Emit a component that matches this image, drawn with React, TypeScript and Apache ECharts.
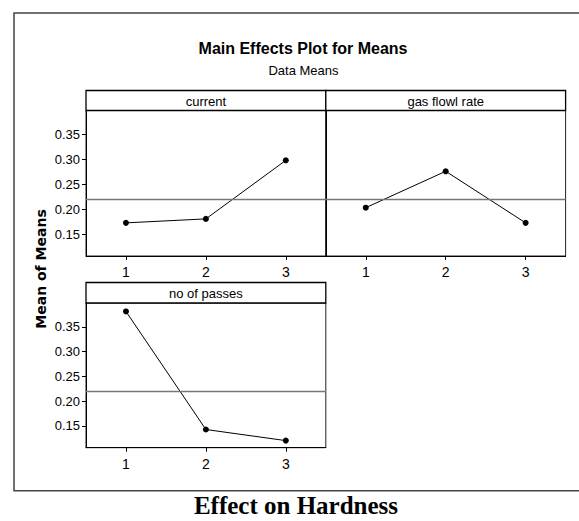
import React, { useEffect, useRef } from "react";
import * as echarts from "echarts";

const categories = ["1", "2", "3"];
const currentMeans = [0.1725, 0.1805, 0.298];
const gasFlowMeans = [0.203, 0.276, 0.1725];
const passesMeans = [0.381, 0.1427, 0.1203];
const grandMean = 0.216;
const yTicks = [0.15, 0.2, 0.25, 0.3, 0.35];
const panelTitles = ["current", "gas flowl rate", "no of passes"];
const yMin = 0.106;
const yMax = 0.398;

const seriesData = [currentMeans, gasFlowMeans, passesMeans];

const PW = 239.8;
const panels = [
  { x: 86, y: 110.5, h: 145.5, hy: 90.5, hh: 20, showY: true },
  { x: 325.8, y: 110.5, h: 145.5, hy: 90.5, hh: 20, showY: false },
  { x: 86, y: 303, h: 144.7, hy: 282.5, hh: 20.5, showY: true },
];

const SANS = "'Liberation Sans', Arial, sans-serif";

export default function App() {
  const ref = useRef<HTMLDivElement>(null);
  useEffect(() => {
    if (!ref.current) return;
    const chart = echarts.init(ref.current, null, { renderer: "svg" });
    const graphics: any[] = [
      {
        type: "rect",
        z: 0,
        shape: { x: 14, y: 13, width: 620, height: 477.7 },
        style: { fill: "none", stroke: "#444", lineWidth: 1.5 },
      },
      {
        type: "text",
        x: 303,
        y: 48.5,
        style: {
          text: "Main Effects Plot for Means",
          fontFamily: SANS,
          fontWeight: "bold",
          fontSize: 16,
          fill: "#000",
          align: "center",
          verticalAlign: "middle",
        },
      },
      {
        type: "text",
        x: 303.5,
        y: 70,
        style: {
          text: "Data Means",
          fontFamily: SANS,
          fontSize: 13,
          fill: "#000",
          align: "center",
          verticalAlign: "middle",
        },
      },
      {
        type: "text",
        x: 41,
        y: 269,
        rotation: Math.PI / 2,
        style: {
          text: "Mean of Means",
          fontFamily: "'DejaVu Sans', sans-serif",
          fontWeight: "bold",
          fontSize: 14,
          fill: "#000",
          align: "center",
          verticalAlign: "middle",
        },
      },
      {
        type: "text",
        x: 296,
        y: 505,
        style: {
          text: "Effect on Hardness",
          fontFamily: "'Liberation Serif', 'Times New Roman', serif",
          fontWeight: "bold",
          fontSize: 25,
          fill: "#000",
          align: "center",
          verticalAlign: "middle",
        },
      },
    ];
    panels.forEach((p, i) => {
      graphics.push({
        type: "rect",
        z: 10,
        shape: { x: p.x, y: p.hy, width: PW, height: p.hh },
        style: { fill: "#fff", stroke: "#000", lineWidth: 1.3 },
      });
      graphics.push({
        type: "text",
        z: 11,
        x: p.x + PW / 2,
        y: p.hy + p.hh / 2 + 0.5,
        style: {
          text: panelTitles[i],
          fontFamily: SANS,
          fontSize: 13,
          fill: "#000",
          align: "center",
          verticalAlign: "middle",
        },
      });
    });

    const option: any = {
      animation: false,
      backgroundColor: "#fff",
      grid: panels.map((p) => ({
        left: p.x,
        top: p.y,
        width: PW,
        height: p.h,
        show: true,
        borderColor: "#222",
        borderWidth: 1,
        backgroundColor: "transparent",
      })),
      xAxis: panels.map((p, i) => ({
        type: "category",
        gridIndex: i,
        data: categories,
        boundaryGap: true,
        axisLine: { show: true, lineStyle: { color: "#000", width: 1 } },
        axisTick: {
          show: true,
          alignWithLabel: true,
          length: 4,
          lineStyle: { color: "#000" },
        },
        axisLabel: {
          show: true,
          margin: 9,
          fontSize: 14,
          color: "#000",
          fontFamily: SANS,
        },
        splitLine: { show: false },
      })),
      yAxis: panels.map((p, i) => ({
        type: "value",
        gridIndex: i,
        min: yMin,
        max: yMax,
        axisLine: { show: true, lineStyle: { color: "#000", width: 1 } },
        axisTick: {
          show: p.showY,
          length: 4,
          customValues: yTicks,
          lineStyle: { color: "#000" },
        },
        axisLabel: {
          show: p.showY,
          customValues: yTicks,
          margin: 6,
          fontSize: 13,
          color: "#000",
          fontFamily: SANS,
          formatter: (v: number) => v.toFixed(2),
        },
        splitLine: { show: false },
      })),
      series: seriesData.map((d, i) => ({
        type: "line",
        xAxisIndex: i,
        yAxisIndex: i,
        data: d,
        symbol: "circle",
        symbolSize: 6,
        lineStyle: { color: "#000", width: 1 },
        itemStyle: { color: "#000" },
        markLine: {
          silent: true,
          symbol: ["none", "none"],
          label: { show: false },
          lineStyle: { color: "#777", width: 1.3, type: "solid" },
          data: [{ yAxis: grandMean }],
        },
      })),
      graphic: graphics,
    };
    chart.setOption(option);
    return () => chart.dispose();
  }, []);
  return (
    <div
      ref={ref}
      style={{ position: "absolute", left: 0, top: 0, width: 579, height: 521 }}
    />
  );
}
